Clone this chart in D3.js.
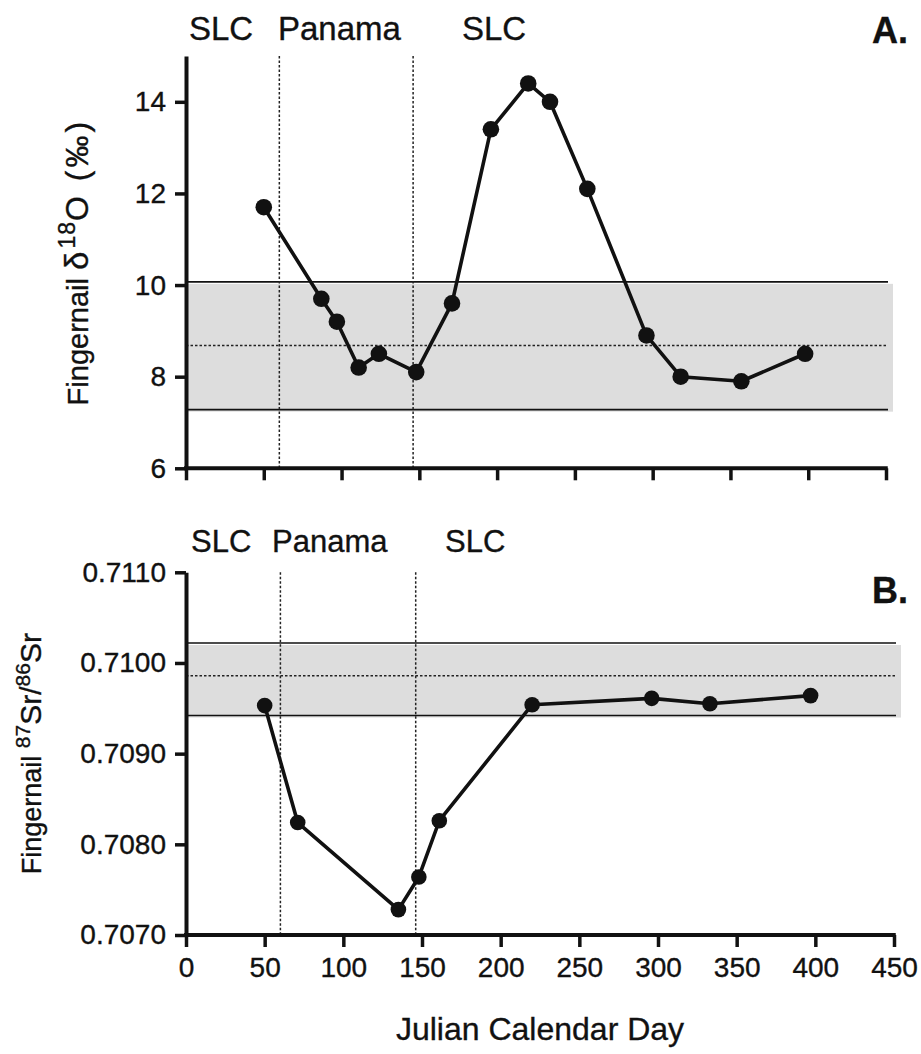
<!DOCTYPE html>
<html><head><meta charset="utf-8">
<script src="https://cdn.jsdelivr.net/npm/d3@7"></script>
<style>body{margin:0;background:#fff}svg{display:block}text{font-family:"Liberation Sans",Arial,Helvetica,sans-serif;fill:#111;stroke:#111;stroke-width:0.35px}</style>
</head><body>
<script>
// Panel A: fingernail d18O
const dayA = [50, 87, 97, 111, 124, 148, 171, 196, 220, 234, 258, 296, 318, 357, 398];
const d18O = [11.7, 9.7, 9.2, 8.2, 8.5, 8.1, 9.6, 13.4, 14.4, 14.0, 12.1, 8.9, 8.0, 7.9, 8.5];
const bandA = {lo: 7.28, mean: 8.68, hi: 10.07};
const yTicksA = [6, 8, 10, 12, 14];

// Panel B: fingernail 87Sr/86Sr
const dayB = [50, 71, 135, 148, 161, 220, 296, 333, 397];
const srRatio = [0.70953, 0.70824, 0.70728, 0.70764, 0.70826, 0.70954, 0.70961, 0.70955, 0.70964];
const bandB = {lo: 0.70942, mean: 0.70986, hi: 0.71022};
const yTicksB = [0.7070, 0.7080, 0.7090, 0.7100, 0.7110];

const xTicks = [0, 50, 100, 150, 200, 250, 300, 350, 400, 450];
const moves = [60, 146];
const locA = [{t:"SLC", x:189}, {t:"Panama", x:278}, {t:"SLC", x:462}];
const locB = [{t:"SLC", x:191}, {t:"Panama", x:272}, {t:"SLC", x:445}];

const W = 921, H = 1054;
const svg = d3.select("body").append("svg").attr("width", W).attr("height", H);

function panel(o) {
  const x = d3.scaleLinear().domain([0, 450]).range([186, o.xr]);
  const y = d3.scaleLinear().domain(o.ydom).range([o.yb, o.yt]);
  const g = svg.append("g");
  // band
  g.append("rect").attr("x", x(0)).attr("width", o.xr + 7 - x(0))
    .attr("y", y(o.band.hi) + 2).attr("height", y(o.band.lo) - y(o.band.hi))
    .attr("fill", "#dddddd");
  [o.band.hi, o.band.lo].forEach(v => g.append("line").attr("x1", x(0)).attr("x2", o.xr + 2)
    .attr("y1", y(v)).attr("y2", y(v)).attr("stroke", "#111").attr("stroke-width", 1.6));
  g.append("line").attr("x1", x(0)).attr("x2", o.xr + 2).attr("y1", y(o.band.mean)).attr("y2", y(o.band.mean))
    .attr("stroke", "#222").attr("stroke-width", 1.5).attr("stroke-dasharray", "2.5,2");
  // vertical dashed
  moves.forEach(d => g.append("line").attr("x1", x(d)).attr("x2", x(d)).attr("y1", o.yt).attr("y2", o.yb)
    .attr("stroke", "#222").attr("stroke-width", 1.5).attr("stroke-dasharray", "2.5,2"));
  // axes
  const ax = g.append("g").attr("transform", `translate(0,${o.yb})`)
    .call(d3.axisBottom(x).tickValues(xTicks).tickSize(12).tickSizeOuter(0).tickPadding(10)
      .tickFormat(o.xlabels ? d3.format("d") : ""));
  const ay = g.append("g").attr("transform", `translate(${x(0)},0)`)
    .call(d3.axisLeft(y).tickValues(o.yticks).tickSize(11).tickSizeOuter(0).tickPadding(9).tickFormat(o.yfmt));
  [ax, ay].forEach(a => {
    a.select(".domain").attr("stroke", "#111").attr("stroke-width", 4);
    a.selectAll(".tick line").attr("stroke", "#111").attr("stroke-width", 3.5);
    a.selectAll("text").style("font-size", "28px").attr("fill", "#111")
      .style("font-family", '"Liberation Sans",Arial,sans-serif');
  });
  ax.select(".domain").attr("d", `M${x(0)-2},0H${o.xr+1.75}`);
  // line + markers
  const pts = o.xs.map((d, i) => [d, o.ys[i]]);
  g.append("path").datum(pts).attr("fill", "none").attr("stroke", "#111").attr("stroke-width", 3.6)
    .attr("stroke-linejoin", "round")
    .attr("d", d3.line().x(d => x(d[0])).y(d => y(d[1])));
  g.selectAll("circle.m").data(pts).join("circle").attr("cx", d => x(d[0])).attr("cy", d => y(d[1]))
    .attr("r", o.r).attr("fill", "#111");
  // location labels
  o.locs.forEach(l => g.append("text").attr("x", l.x).attr("y", o.locY).style("font-size", o.locFs + "px").text(l.t));
  g.append("text").attr("x", 872).attr("y", o.letterY).style("font-size", "36px").style("font-weight", "bold").text(o.letter);
  // y title
  const t = g.append("text").attr("transform", `translate(${o.titleX},${(o.yt + o.yb) / 2}) rotate(-90)`)
    .attr("text-anchor", "middle").style("font-size", o.titleFs + "px");
  o.title(t);
  return {x, y};
}

panel({xr: 886, yb: 468.3, yt: 56, ydom: [6, 15], band: bandA, yticks: yTicksA, yfmt: d3.format("d"),
  xs: dayA, ys: d18O, r: 8.3, xlabels: false, locs: locA, locY: 40, locFs: 33, letter: "A.", letterY: 43,
  titleX: 88, titleFs: 29,
  title: t => { t.append("tspan").text("Fingernail ");
    t.append("tspan").style("font-size", "33px").style("letter-spacing", "3px").text("δ");
    t.append("tspan").attr("baseline-shift", "super").style("font-size", "23px").style("letter-spacing", "1px").text("18");
    t.append("tspan").style("font-size", "32px").style("letter-spacing", "3px").text("O (‰)"); }});

panel({xr: 894, yb: 935, yt: 572.3, ydom: [0.7070, 0.7110], band: bandB, yticks: yTicksB, yfmt: d3.format(".4f"),
  xs: dayB, ys: srRatio, r: 7.8, xlabels: true, locs: locB, locY: 552, locFs: 31, letter: "B.", letterY: 603,
  titleX: 41, titleFs: 27,
  title: t => { t.append("tspan").text("Fingernail   ");
    t.append("tspan").attr("baseline-shift", "super").style("font-size", "21px").text("87");
    t.append("tspan").style("font-size", "30px").text("Sr/");
    t.append("tspan").attr("baseline-shift", "super").style("font-size", "21px").text("86");
    t.append("tspan").style("font-size", "30px").text("Sr"); }});

svg.append("text").attr("x", 540).attr("y", 1040).attr("text-anchor", "middle").style("font-size", "32px")
  .text("Julian Calendar Day");
</script>
</body></html>
